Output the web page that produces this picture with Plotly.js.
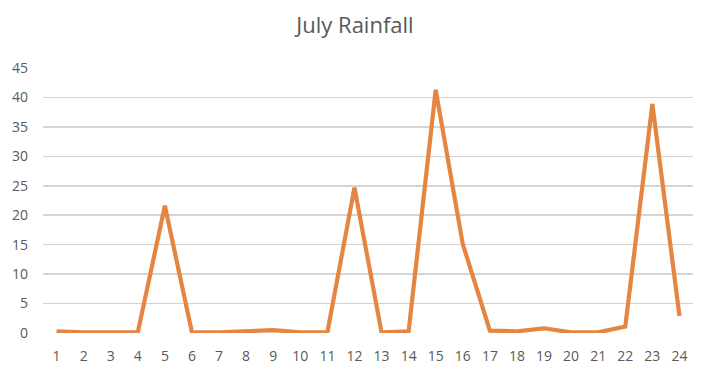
<!DOCTYPE html>
<html>
<head>
<meta charset="utf-8">
<script src="https://cdn.plot.ly/plotly-3.0.1.min.js"></script>
<style>html,body{margin:0;padding:0;background:#fff;}#chart{width:710px;height:384px;}</style>
</head>
<body>
<div id="chart"></div>
<script>
const days = ["1","2","3","4","5","6","7","8","9","10","11","12","13","14","15","16","17","18","19","20","21","22","23","24"];
const rainfall = [0.3,0.1,0.1,0.1,21.6,0.1,0.1,0.3,0.5,0.1,0.1,24.7,0.1,0.3,41.3,15.1,0.4,0.3,0.8,0.1,0.1,1.1,38.9,2.9];
const yTicks = [0,5,10,15,20,25,30,35,40,45];
const chartTitle = "July Rainfall";

const trace = {
  x: days,
  y: rainfall,
  type: 'scatter',
  mode: 'lines',
  line: {color: '#E48542', width: 4.2},
  hoverinfo: 'x+y'
};
const font = {family: 'Open Sans, Liberation Sans, sans-serif', color: '#595959', size: 14};
const layout = {
  width: 710, height: 384,
  margin: {l: 43, r: 17, t: 68, b: 51},
  paper_bgcolor: '#ffffff', plot_bgcolor: '#ffffff',
  showlegend: false,
  font: font,
  title: {text: chartTitle, x: 0.5, xanchor: 'center', y: 0.935, yanchor: 'middle', font: {family: font.family, size: 22, color: '#595959'}},
  xaxis: {
    type: 'category',
    range: [-0.5, days.length - 0.5],
    showgrid: false, zeroline: false, showline: false,
    ticks: '', ticklabelstandoff: 13,
    tickfont: font, fixedrange: true
  },
  yaxis: {
    range: [0, 45], tickvals: yTicks,
    showgrid: true, gridcolor: '#d4d4d4', gridwidth: 1.5,
    zeroline: false, showline: false, ticks: '',
    ticklabelstandoff: 14,
    tickfont: font, fixedrange: true
  }
};
Plotly.newPlot('chart', [trace], layout, {displayModeBar: false, staticPlot: true});
</script>
</body>
</html>
